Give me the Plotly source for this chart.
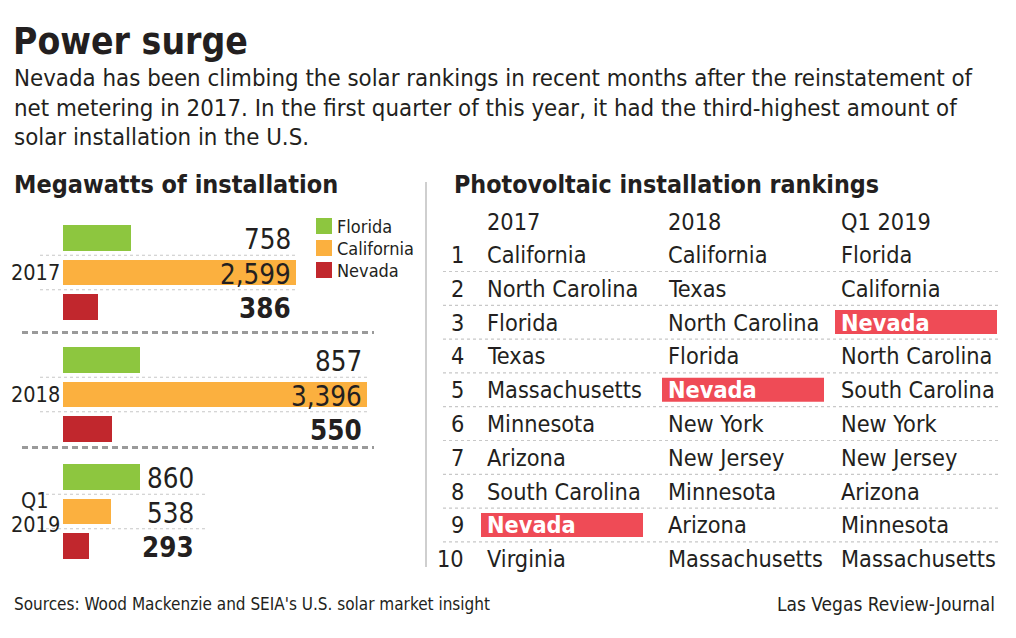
import plotly.graph_objects as go

# ---------------- data ----------------
periods = ["2017", "2018", "Q1 2019"]
states = ["Florida", "California", "Nevada"]
florida_mw = [758, 857, 860]
california_mw = [2599, 3396, 538]
nevada_mw = [386, 550, 293]

ranks = [1, 2, 3, 4, 5, 6, 7, 8, 9, 10]
rank_2017 = ["California", "North Carolina", "Florida", "Texas", "Massachusetts",
             "Minnesota", "Arizona", "South Carolina", "Nevada", "Virginia"]
rank_2018 = ["California", "Texas", "North Carolina", "Florida", "Nevada",
             "New York", "New Jersey", "Minnesota", "Arizona", "Massachusetts"]
rank_q1_2019 = ["Florida", "California", "Nevada", "North Carolina", "South Carolina",
                "New York", "New Jersey", "Arizona", "Minnesota", "Massachusetts"]
highlight_state = "Nevada"

title_text = "Power surge"
subtitle_lines = [
    "Nevada has been climbing the solar rankings in recent months after the reinstatement of",
    "net metering in 2017. In the first quarter of this year, it had the third-highest amount of",
    "solar installation in the U.S.",
]
left_heading = "Megawatts of installation"
right_heading = "Photovoltaic installation rankings"
source_text = "Sources: Wood Mackenzie and SEIA's U.S. solar market insight"
credit_text = "Las Vegas Review-Journal"

# ---------------- styling / layout ----------------
W, H = 1016, 638
FONT = "Liberation Sans Narrow, DejaVu Sans Condensed, Roboto Condensed, Arial Narrow, sans-serif"
INK = "#231f20"
COLORS = {"Florida": "#8dc63f", "California": "#fbb03f", "Nevada": "#c1272d"}
HILITE = "#ef4b56"

BAR_X0 = 63.0          # pixel where 0 MW sits
PX_PER_MW = 0.0895
GROUP_FIRST = [238.0, 360.0, 477.0]
BAR_STEP = 34.5
BAR_H = 25.5
LABEL_RIGHT = [293, 364, 196]
DOT_RIGHT = [296, 367, 206]

series = {"Florida": florida_mw, "California": california_mw, "Nevada": nevada_mw}

fig = go.Figure()

for si, st in enumerate(states):
    ys = [GROUP_FIRST[g] + si * BAR_STEP for g in range(len(periods))]
    fig.add_trace(go.Bar(
        x=series[st], y=ys, orientation="h", width=BAR_H,
        marker=dict(color=COLORS[st], line=dict(width=0)),
        name=st, showlegend=False, hoverinfo="x+name",
    ))

shapes = []
ann = []

def text(x, y, s, size, xanchor="left", color=INK, bold=False, yanchor="middle"):
    ann.append(dict(x=x, y=y, xref="x2", yref="y", text=("<b>%s</b>" % s) if bold else s,
                    showarrow=False, xanchor=xanchor, yanchor=yanchor,
                    font=dict(family=FONT, size=size, color=color)))

def line(x0, y0, x1, y1, color, width, dash="solid"):
    shapes.append(dict(type="line", xref="x2", yref="y", x0=x0, y0=y0, x1=x1, y1=y1,
                       line=dict(color=color, width=width, dash=dash), layer="below"))

def rect(x0, y0, x1, y1, color):
    shapes.append(dict(type="rect", xref="x2", yref="y", x0=x0, y0=y0, x1=x1, y1=y1,
                       line=dict(width=0), fillcolor=color, layer="below"))

# title and subtitle
text(11, 41, title_text, 37, bold=True)
for i, s in enumerate(subtitle_lines):
    text(12, 78 + i * 29.5, s, 23.8)

# headings
text(12, 184, left_heading, 25, bold=True)
text(452, 184, right_heading, 24.8, bold=True)

# ---- left panel ----
for g, p in enumerate(periods):
    # thin dotted rules between bars
    for k in range(2):
        yy = GROUP_FIRST[g] + (k + 0.5) * BAR_STEP
        line(40, yy, DOT_RIGHT[g], yy, "#c8c8c8", 1.2, "dot")
    # value labels
    for si, st in enumerate(states):
        v = series[st][g]
        text(LABEL_RIGHT[g], GROUP_FIRST[g] + si * BAR_STEP + 1, f"{v:,}", 27.5,
             xanchor="right", bold=(st == "Nevada"))
    # period label
    parts = p.split(" ")
    mid = GROUP_FIRST[g] + BAR_STEP
    if len(parts) == 1:
        text(35, mid, parts[0], 21.5, xanchor="center")
    else:
        text(35, mid - 11, parts[0], 21.5, xanchor="center")
        text(35, mid + 13, parts[1], 21.5, xanchor="center")

# dashed separators between groups
for yy in (332.5, 447.5):
    line(22, yy, 374, yy, "#9a9a9a", 3, "6px,4px")

# legend
for si, st in enumerate(states):
    cy = 226 + si * 22
    rect(316, cy - 8, 332, cy + 8, COLORS[st])
    text(335, cy, st, 18)

# vertical divider
line(426, 182, 426, 567, "#cfcfcf", 2)

# ---- right panel: rankings ----
COL_X = [485, 666, 839]
ROW0 = 254.5
ROW_STEP = 33.8
cols = [rank_2017, rank_2018, rank_q1_2019]
for c, p in enumerate(periods):
    text(COL_X[c], 221, p, 23.3)
for r, rk in enumerate(ranks):
    cy = ROW0 + r * ROW_STEP
    text(466, cy, str(rk), 23.3, xanchor="right")
    if r < len(ranks) - 1:
        line(443, cy + 17, 998, cy + 17, "#c8c8c8", 1.2, "dot")
    for c in range(3):
        name = cols[c][r]
        if name == highlight_state:
            rect(COL_X[c] - 4, cy - 12, COL_X[c] + 158, cy + 12, HILITE)
            text(COL_X[c], cy, name, 23.3, color="white", bold=True)
        else:
            text(COL_X[c], cy, name, 23.3)

# footer
text(12, 604, source_text, 17)
text(997, 604, credit_text, 19, xanchor="right")

fig.update_layout(
    width=W, height=H,
    margin=dict(l=0, r=0, t=0, b=0),
    paper_bgcolor="white", plot_bgcolor="white",
    showlegend=False,
    xaxis=dict(range=[-BAR_X0 / PX_PER_MW, (W - BAR_X0) / PX_PER_MW], domain=[0, 1],
               visible=False, fixedrange=True),
    xaxis2=dict(range=[0, W], domain=[0, 1], overlaying="x", visible=False, fixedrange=True),
    yaxis=dict(range=[H, 0], domain=[0, 1], visible=False, fixedrange=True),
    shapes=shapes,
    annotations=ann,
    bargap=0,
)

fig.write_html(
    "out.html",
    config={"displayModeBar": False},
    post_script="document.body.style.margin='0';document.body.style.overflow='hidden';",
)
